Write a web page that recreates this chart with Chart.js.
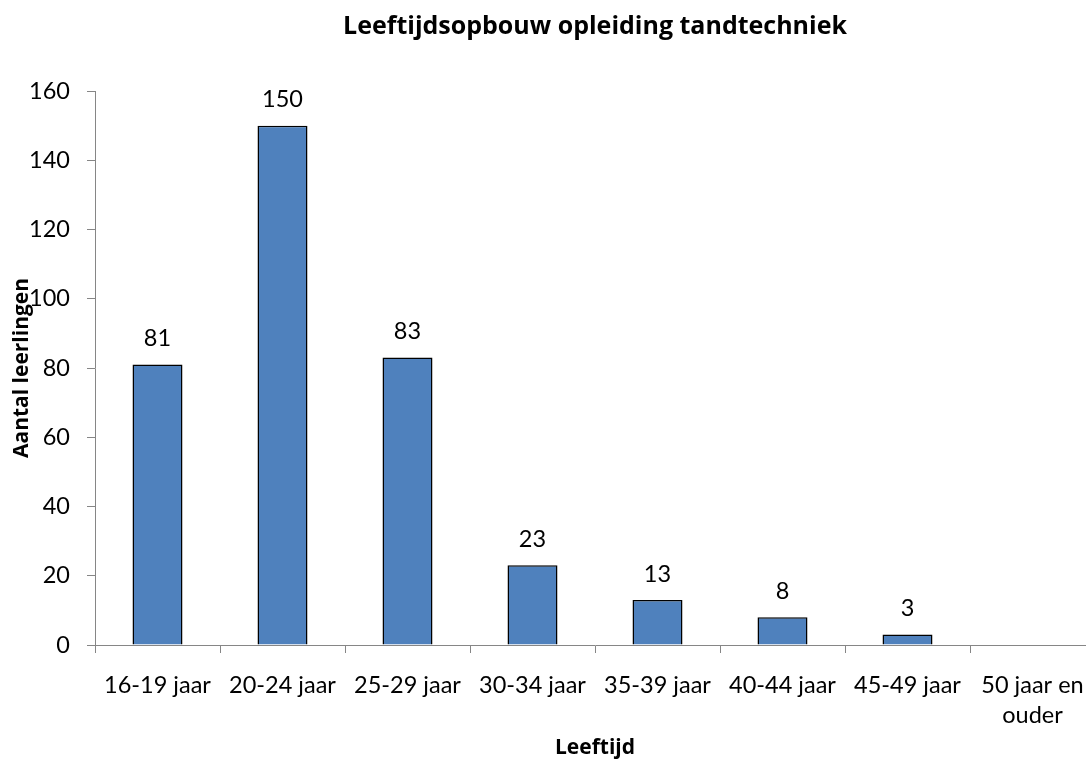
<!DOCTYPE html>
<html>
<head>
<meta charset="utf-8">
<script src="https://cdn.jsdelivr.net/npm/chart.js@4.4.1/dist/chart.umd.min.js"></script>
<style>
  html, body { margin: 0; padding: 0; background: #fff; overflow: hidden; }
  #wrap { width: 1120px; height: 763px; }
</style>
</head>
<body>
<div id="wrap"><canvas id="c" width="1120" height="763"></canvas></div>
<script>
const chartTitle = 'Leeftijdsopbouw opleiding tandtechniek';
const xTitle = 'Leeftijd';
const yTitle = 'Aantal leerlingen';
const categories = ['16-19 jaar', '20-24 jaar', '25-29 jaar', '30-34 jaar', '35-39 jaar', '40-44 jaar', '45-49 jaar', ['50 jaar en', 'ouder']];
const values = [81, 150, 83, 23, 13, 8, 3, null];
const yMin = 0, yMax = 160, yStep = 20;

const bodyFont = 'Lato, "Open Sans", sans-serif';
const titleFont = '"Open Sans", Lato, sans-serif';
Chart.defaults.font.family = bodyFont;
Chart.defaults.color = '#000';

const axisGray = '#868686';

const valueLabels = {
  id: 'valueLabels',
  afterDatasetsDraw(chart) {
    const ctx = chart.ctx;
    const meta = chart.getDatasetMeta(0);
    ctx.save();
    ctx.font = '23.5px ' + bodyFont;
    ctx.fillStyle = '#000';
    ctx.textAlign = 'center';
    ctx.textBaseline = 'middle';
    meta.data.forEach((bar, i) => {
      const v = chart.data.datasets[0].data[i];
      if (v === null || v === undefined) return;
      ctx.fillText(String(v), bar.x, bar.y - 26);
    });
    ctx.restore();
  }
};

new Chart(document.getElementById('c'), {
  type: 'bar',
  data: {
    labels: categories,
    datasets: [{
      data: values,
      backgroundColor: '#4F81BD',
      borderColor: '#000',
      borderWidth: 1.5,
      barPercentage: 0.4,
      categoryPercentage: 1.0
    }]
  },
  options: {
    responsive: false,
    animation: false,
    devicePixelRatio: 1,
    layout: { padding: { left: 0, right: 25, top: 0, bottom: 0 } },
    plugins: {
      legend: { display: false },
      tooltip: { enabled: false },
      title: {
        display: true,
        fullSize: false,
        text: chartTitle,
        font: { family: titleFont, size: 25, weight: 'bold', lineHeight: 1.2 },
        padding: { top: 11.8, bottom: 49.2 },
        color: '#000'
      }
    },
    scales: {
      x: {
        afterFit(scale) { scale.height = 118; },
        grid: { offset: true, drawOnChartArea: false, drawTicks: true, tickLength: 8, color: axisGray },
        border: { display: true, color: axisGray, width: 1 },
        ticks: { font: { size: 23.5, lineHeight: 1.3 }, padding: 17, maxRotation: 0, autoSkip: false, color: '#000' },
        title: { display: true, text: xTitle, font: { family: titleFont, size: 21, weight: 'bold', lineHeight: 1.2 }, padding: { top: 0, bottom: 1.9 }, color: '#000' }
      },
      y: {
        min: yMin,
        max: yMax,
        afterFit(scale) { scale.width = 95; },
        grid: { drawOnChartArea: false, drawTicks: true, tickLength: 8, color: axisGray },
        border: { display: true, color: axisGray, width: 1 },
        ticks: { stepSize: yStep, font: { size: 23.5 }, padding: 17, color: '#000' },
        title: { display: true, text: yTitle, font: { family: titleFont, size: 21, weight: 'bold', lineHeight: 1.2 }, padding: { top: 9.4, bottom: 0 }, color: '#000' }
      }
    }
  },
  plugins: [valueLabels]
});
</script>
</body>
</html>
